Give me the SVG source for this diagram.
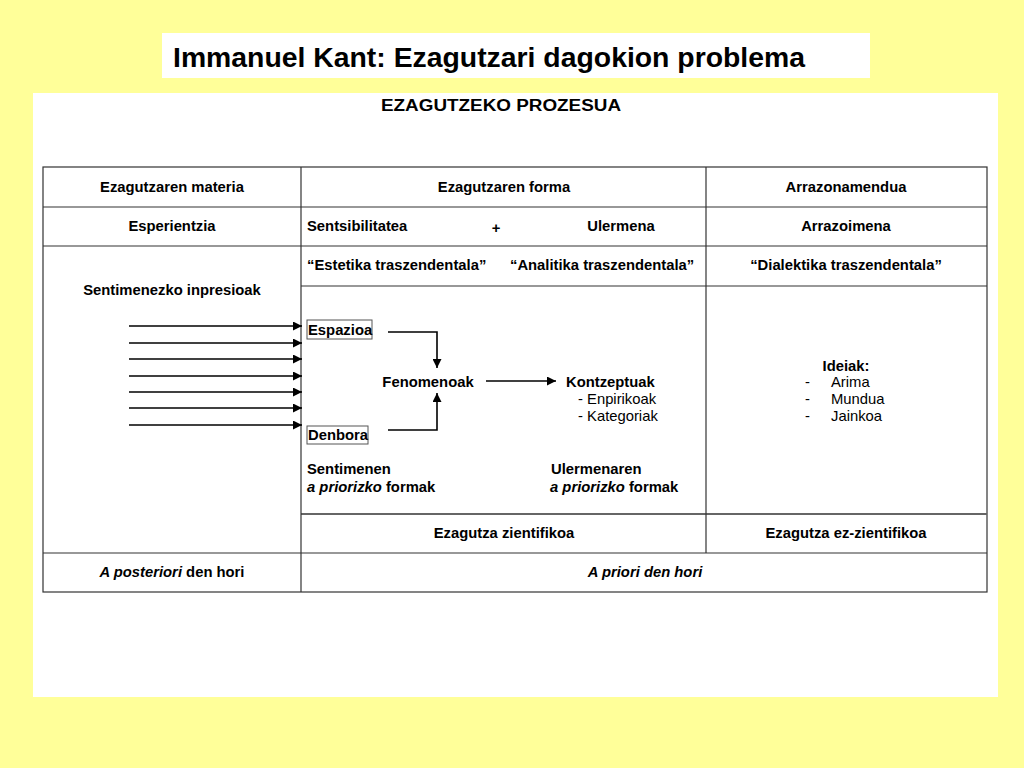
<svg xmlns="http://www.w3.org/2000/svg" width="1024" height="768" viewBox="0 0 1024 768">
<defs>
<style>
text{font-family:"Liberation Sans",Arial,sans-serif;fill:#000}
.b{font-weight:bold;font-size:14.8px}
.r{font-size:14.8px}
.c{text-anchor:middle}
.grid{stroke:#333;stroke-width:1.2;fill:none}
.con{stroke:#000;stroke-width:1.6;fill:none}
</style>
<marker id="ah" viewBox="0 0 10 10" refX="10" refY="5" markerWidth="10" markerHeight="9" markerUnits="userSpaceOnUse" orient="auto">
<path d="M0,0 L10,5 L0,10 z" fill="#000"/>
</marker>
</defs>
<rect width="1024" height="768" fill="#FFFF99"/>
<rect x="162" y="33" width="708" height="45" fill="#fff"/>
<text x="173" y="67" font-size="28" font-weight="bold" textLength="632" lengthAdjust="spacingAndGlyphs">Immanuel Kant: Ezagutzari dagokion problema</text>
<rect x="33" y="93" width="965" height="604" fill="#fff"/>
<text x="501" y="111" class="c" font-size="16" font-weight="bold" textLength="240" lengthAdjust="spacingAndGlyphs">EZAGUTZEKO PROZESUA</text>

<g id="table" class="grid">
<rect x="43" y="167" width="944" height="425"/>
<line x1="43" y1="207" x2="987" y2="207"/>
<line x1="43" y1="246" x2="987" y2="246"/>
<line x1="301" y1="286" x2="987" y2="286"/>
<line x1="301" y1="514" x2="987" y2="514" stroke="#666" stroke-width="2"/>
<line x1="43" y1="553" x2="987" y2="553"/>
<line x1="301" y1="167" x2="301" y2="592"/>
<line x1="706" y1="167" x2="706" y2="553"/>
</g>

<g id="row-header">
<text x="172" y="192" class="b c">Ezagutzaren materia</text>
<text x="504" y="192" class="b c">Ezagutzaren forma</text>
<text x="846" y="192" class="b c">Arrazonamendua</text>
</g>
<g id="row-faculties">
<text x="172" y="231" class="b c">Esperientzia</text>
<text x="307" y="231" class="b">Sentsibilitatea</text>
<text x="496" y="233" class="b c">+</text>
<text x="621" y="231" class="b c">Ulermena</text>
<text x="846" y="231" class="b c">Arrazoimena</text>
</g>
<g id="row-transcendental">
<text x="307" y="270" class="b">“Estetika traszendentala”</text>
<text x="510" y="270" class="b">“Analitika traszendentala”</text>
<text x="846" y="270" class="b c">“Dialektika traszendentala”</text>
</g>
<g id="node-inpresioak">
<text x="172" y="295" class="b c">Sentimenezko inpresioak</text>
</g>
<g id="node-espazioa">
<rect x="307" y="320" width="65" height="19" fill="#fff" stroke="#555" stroke-width="1"/>
<text x="308" y="335" class="b">Espazioa</text>
</g>
<g id="node-denbora">
<rect x="307" y="426" width="61" height="18" fill="#fff" stroke="#555" stroke-width="1"/>
<text x="308" y="440" class="b">Denbora</text>
</g>
<g id="node-fenomenoak">
<text x="428" y="387" class="b c">Fenomenoak</text>
</g>
<g id="node-kontzeptuak">
<text x="566" y="387" class="b">Kontzeptuak</text>
<text x="578" y="404" class="r">- Enpirikoak</text>
<text x="578" y="421" class="r">- Kategoriak</text>
</g>
<g id="node-sentimenen">
<text x="307" y="474" class="b">Sentimenen</text>
<text x="307" y="492" class="b"><tspan font-style="italic">a priorizko</tspan> formak</text>
</g>
<g id="node-ulermenaren">
<text x="551" y="474" class="b">Ulermenaren</text>
<text x="550" y="492" class="b"><tspan font-style="italic">a priorizko</tspan> formak</text>
</g>
<g id="node-ideiak">
<text x="846" y="371" class="b c">Ideiak:</text>
<text x="805" y="387" class="r">-</text>
<text x="831" y="387" class="r">Arima</text>
<text x="805" y="404" class="r">-</text>
<text x="831" y="404" class="r">Mundua</text>
<text x="805" y="421" class="r">-</text>
<text x="831" y="421" class="r">Jainkoa</text>
</g>
<g id="row-knowledge">
<text x="504" y="538" class="b c">Ezagutza zientifikoa</text>
<text x="846" y="538" class="b c">Ezagutza ez-zientifikoa</text>
</g>
<g id="row-apriori">
<text x="172" y="577" class="b c"><tspan font-style="italic">A posteriori</tspan> den hori</text>
<text x="645" y="577" class="b c" font-style="italic">A priori den hori</text>
</g>

<g id="connectors" class="con">
<line x1="129" y1="326" x2="302" y2="326" marker-end="url(#ah)"/>
<line x1="129" y1="343" x2="302" y2="343" marker-end="url(#ah)"/>
<line x1="129" y1="359" x2="302" y2="359" marker-end="url(#ah)"/>
<line x1="129" y1="376" x2="302" y2="376" marker-end="url(#ah)"/>
<line x1="129" y1="392" x2="302" y2="392" marker-end="url(#ah)"/>
<line x1="129" y1="408" x2="302" y2="408" marker-end="url(#ah)"/>
<line x1="129" y1="425" x2="302" y2="425" marker-end="url(#ah)"/>
<polyline points="388,332 437,332 437,368" marker-end="url(#ah)"/>
<polyline points="388,430 437,430 437,393" marker-end="url(#ah)"/>
<line x1="486" y1="381" x2="556" y2="381" marker-end="url(#ah)"/>
</g>
</svg>
